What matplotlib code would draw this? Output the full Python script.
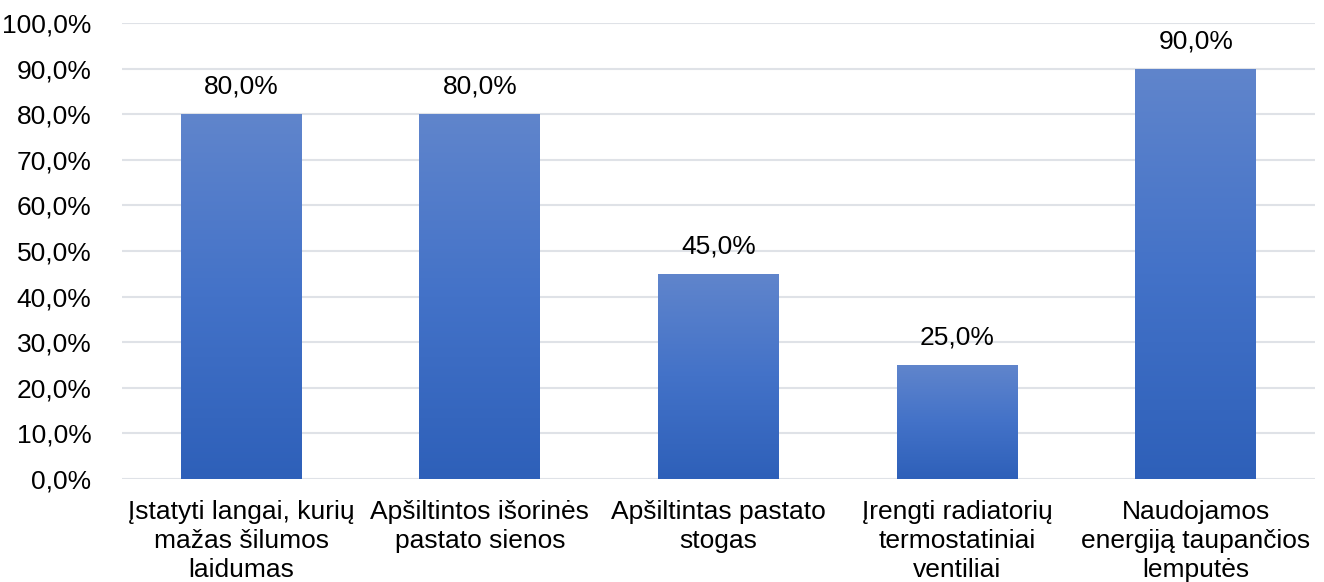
import numpy as np
import matplotlib
matplotlib.use("Agg")
import matplotlib.pyplot as plt
from matplotlib.colors import LinearSegmentedColormap

categories = [
    "Įstatyti langai, kurių\nmažas šilumos\nlaidumas",
    "Apšiltintos išorinės\npastato sienos",
    "Apšiltintas pastato\nstogas",
    "Įrengti radiatorių\ntermostatiniai\nventiliai",
    "Naudojamos\nenergiją taupančios\nlemputės",
]
values = [80.0, 80.0, 45.0, 25.0, 90.0]
yticks = [0, 10, 20, 30, 40, 50, 60, 70, 80, 90, 100]

plt.rcParams['font.family'] = ['Liberation Sans', 'DejaVu Sans']

fig = plt.figure(figsize=(13.24, 5.82), dpi=100)
ax = fig.add_axes([0.0921, 0.177, 0.9011, 0.7835])

cmap = LinearSegmentedColormap.from_list("bar", ["#2e60b9", "#4372c8", "#6085cc"])
width = 0.507
bars = ax.bar(range(len(values)), values, width=width, color="none", zorder=3)
grad = np.linspace(0, 1, 256).reshape(-1, 1)
for b in bars:
    x0, y0 = b.get_x(), b.get_y()
    w, h = b.get_width(), b.get_height()
    im = ax.imshow(grad, cmap=cmap, aspect="auto", origin="lower",
                   extent=[x0, x0 + w, y0, y0 + h], zorder=3)
    im.set_clip_path(b)
    ax.text(x0 + w / 2, h + 3.4, f"{h:.1f}%".replace(".", ","),
            ha="center", va="bottom", fontsize=19, color="#000000", zorder=4)

ax.set_xlim(-0.5, len(values) - 0.5)
ax.set_ylim(0, 100)
ax.set_yticks(yticks)
ax.set_yticklabels([f"{v:.1f}%".replace(".", ",") for v in yticks], fontsize=19)
ax.set_xticks(range(len(values)))
ax.set_xticklabels(categories, fontsize=19, linespacing=1.27)
ax.tick_params(axis="both", length=0)
ax.tick_params(axis="y", pad=22)
ax.tick_params(axis="x", pad=15)
ax.grid(axis="y", color="#dfe2e7", linewidth=1.5, zorder=0)
for s in ax.spines.values():
    s.set_visible(False)

fig.savefig("out.png", dpi=100)
